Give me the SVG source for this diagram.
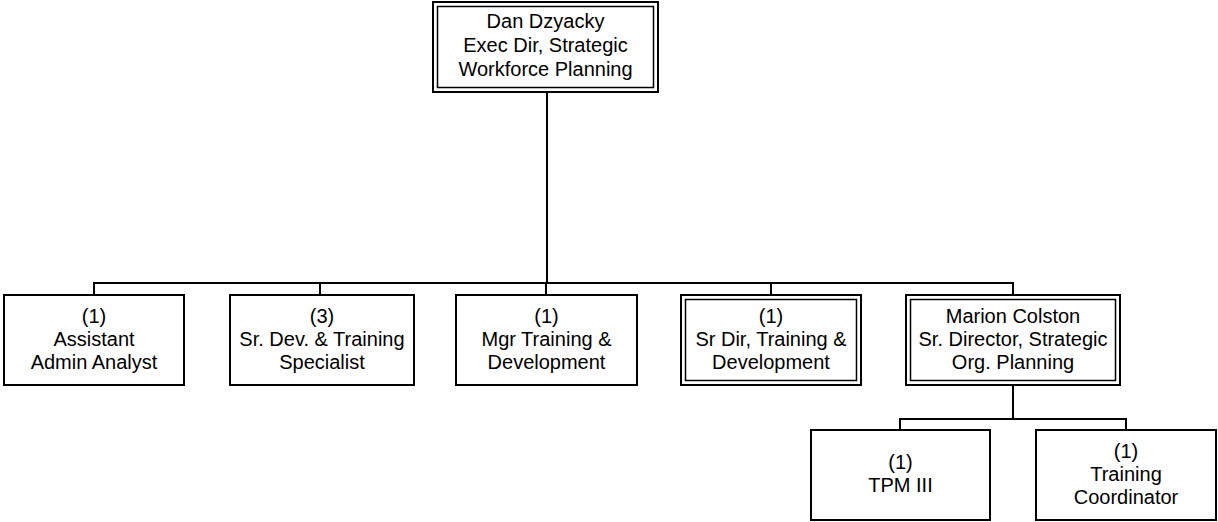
<svg xmlns="http://www.w3.org/2000/svg" width="1218" height="522" viewBox="0 0 1218 522">
<style>
.box{fill:#fff;stroke:#000;stroke-width:2}
.inner{fill:none;stroke:#000;stroke-width:1.5}
.conn{fill:none;stroke:#000;stroke-width:2}
text{font-family:"Liberation Sans",Arial,sans-serif;font-size:20px;fill:#000;text-anchor:middle}
</style>
<rect width="1218" height="522" fill="#fff"/>
<g id="connectors">
<line class="conn" x1="547" y1="92" x2="547" y2="283"/>
<polyline class="conn" points="94,295 94,283 1013,283 1013,295"/>
<line class="conn" x1="320" y1="283" x2="320" y2="295"/>
<line class="conn" x1="546" y1="283" x2="546" y2="295"/>
<line class="conn" x1="771" y1="283" x2="771" y2="295"/>
<line class="conn" x1="1013" y1="385" x2="1013" y2="419"/>
<polyline class="conn" points="900,430 900,419 1126,419 1126,430"/>
</g>
<g id="dan">
<rect class="box" x="433" y="2" width="225" height="90"/>
<rect class="inner" x="437.5" y="6.5" width="216" height="81"/>
<text x="545.5" y="28">Dan Dzyacky</text>
<text x="545.5" y="52">Exec Dir, Strategic</text>
<text x="545.5" y="76">Workforce Planning</text>
</g>
<g id="assistant">
<rect class="box" x="4" y="295" width="180" height="90"/>
<text x="94" y="323">(1)</text>
<text x="94" y="346">Assistant</text>
<text x="94" y="369">Admin Analyst</text>
</g>
<g id="srdev">
<rect class="box" x="230" y="295" width="184" height="90"/>
<text x="322" y="323">(3)</text>
<text x="322" y="346">Sr. Dev. &amp; Training</text>
<text x="322" y="369">Specialist</text>
</g>
<g id="mgr">
<rect class="box" x="456" y="295" width="181" height="90"/>
<text x="546.5" y="323">(1)</text>
<text x="546.5" y="346">Mgr Training &amp;</text>
<text x="546.5" y="369">Development</text>
</g>
<g id="srdir">
<rect class="box" x="681" y="295" width="180" height="90"/>
<rect class="inner" x="685.5" y="299.5" width="171" height="81"/>
<text x="771" y="323">(1)</text>
<text x="771" y="346">Sr Dir, Training &amp;</text>
<text x="771" y="369">Development</text>
</g>
<g id="marion">
<rect class="box" x="906" y="295" width="214" height="90"/>
<rect class="inner" x="910.5" y="299.5" width="205" height="81"/>
<text x="1013" y="323">Marion Colston</text>
<text x="1013" y="346">Sr. Director, Strategic</text>
<text x="1013" y="369">Org. Planning</text>
</g>
<g id="tpm">
<rect class="box" x="811" y="430" width="179" height="90"/>
<text x="900.5" y="469">(1)</text>
<text x="900.5" y="492">TPM III</text>
</g>
<g id="coord">
<rect class="box" x="1036" y="430" width="180" height="90"/>
<text x="1126" y="458">(1)</text>
<text x="1126" y="481">Training</text>
<text x="1126" y="504">Coordinator</text>
</g>
</svg>
